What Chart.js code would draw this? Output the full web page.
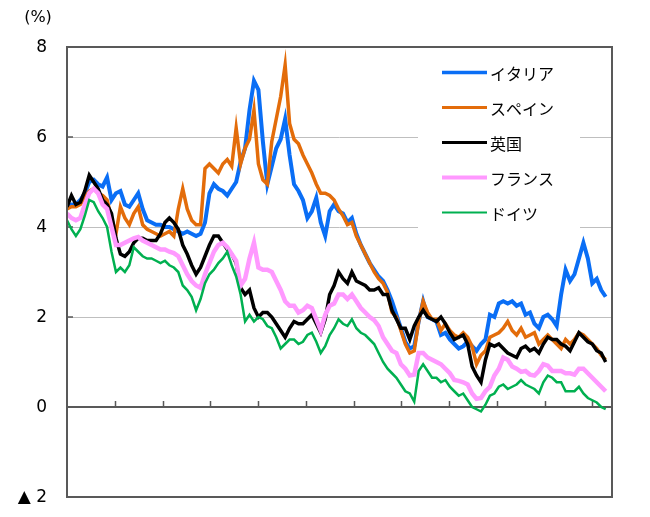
<!DOCTYPE html>
<html lang="ja">
<head>
<meta charset="utf-8">
<script src="https://cdn.jsdelivr.net/npm/chart.js@4.4.1/dist/chart.umd.min.js"></script>
<style>
  html, body { margin: 0; padding: 0; background: #fff; overflow: hidden; }
  #wrap { position: relative; width: 650px; height: 517px; }
  canvas { display: block; }
</style>
</head>
<body>
<div id="wrap"><canvas id="yieldChart" width="650" height="517"></canvas></div>
<script>
// 10-year government bond yields (%), sampled roughly every 34 days from Jan 2008
const YEARS_PER_POINT = 0.0932;
const X_MAX_YEARS = 11.41;
const yTicks = [-2, 0, 2, 4, 6, 8];

const seriesNames = ['イタリア', 'スペイン', '英国', 'フランス', 'ドイツ'];
const seriesColors = ['#0A6EF5', '#E36C0A', '#000000', '#FF99FF', '#00B050'];

const italy = [
  4.45, 4.5, 4.5, 4.6, 4.75, 5.0, 5.05, 4.95, 4.9, 5.1,
  4.6, 4.75, 4.8, 4.5, 4.45, 4.6, 4.75, 4.4, 4.15, 4.1,
  4.05, 4.05, 4.0, 4.0, 3.95, 3.9, 3.85, 3.9, 3.85, 3.8,
  3.85, 4.1, 4.75, 4.95, 4.85, 4.8, 4.7, 4.85, 5.0, 5.45,
  5.75, 6.6, 7.25, 7.05, 5.9, 4.95, 5.35, 5.75, 5.95, 6.4,
  5.6, 4.95, 4.8, 4.6, 4.2, 4.35, 4.65, 4.1, 3.8, 4.35,
  4.5, 4.35, 4.3, 4.1, 4.2, 3.85, 3.6, 3.4, 3.2, 3.05,
  2.9, 2.8, 2.6, 2.35, 2.05, 1.75, 1.45, 1.3, 1.35, 1.9,
  2.35, 2.0, 1.95, 1.9, 1.6, 1.65, 1.5, 1.4, 1.3, 1.35,
  1.45, 1.35, 1.25, 1.4, 1.5, 2.05, 2.0, 2.3, 2.35, 2.3,
  2.35, 2.25, 2.3, 2.05, 2.1, 1.85, 1.75, 2.0, 2.05, 1.95,
  1.8, 2.5, 3.05, 2.8, 2.95, 3.3, 3.65, 3.3, 2.75, 2.85,
  2.6, 2.45
];

const spain = [
  4.4, 4.45, 4.45, 4.5, 4.65, 4.8, 4.85, 4.75, 4.7, 4.6,
  4.2, 3.85, 4.45, 4.2, 4.05, 4.3, 4.45, 4.05, 3.95, 3.9,
  3.85, 3.8, 3.85, 3.9, 3.8, 4.4, 4.85, 4.4, 4.15, 4.05,
  4.05, 5.3, 5.4, 5.3, 5.2, 5.4, 5.5, 5.35, 6.2, 5.4,
  5.75, 5.95, 6.6, 5.4, 5.05, 4.95, 5.9, 6.4, 6.9, 7.6,
  6.3, 5.95, 5.85, 5.6, 5.4, 5.2, 4.95, 4.75, 4.75, 4.7,
  4.6, 4.4, 4.25, 4.05, 4.1, 3.8, 3.6, 3.4, 3.2, 3.0,
  2.85, 2.75, 2.55, 2.1, 2.0, 1.7, 1.4, 1.2, 1.25, 1.9,
  2.35, 2.1, 1.95, 1.95, 1.7, 1.85, 1.7, 1.6, 1.55, 1.65,
  1.55, 1.35, 0.95, 1.15, 1.25, 1.55, 1.6, 1.65, 1.75, 1.9,
  1.7, 1.6, 1.75, 1.55, 1.6, 1.65, 1.4, 1.5, 1.6, 1.5,
  1.4, 1.3, 1.5, 1.4, 1.5, 1.65, 1.6, 1.5, 1.4, 1.3,
  1.15, 1.05
];

const uk = [
  4.45, 4.7, 4.5, 4.55, 4.8, 5.15, 5.0, 4.85, 4.6, 4.5,
  4.3, 3.75, 3.4, 3.35, 3.45, 3.65, 3.75, 3.75, 3.7, 3.7,
  3.7, 3.85, 4.1, 4.2, 4.1, 3.95, 3.6, 3.4, 3.15, 2.95,
  3.1, 3.35, 3.6, 3.8, 3.8, 3.65, 3.5, 3.4, 3.2, 2.65,
  2.5, 2.6, 2.2, 2.0, 2.1, 2.1, 2.0, 1.85, 1.7, 1.55,
  1.75, 1.9, 1.85, 1.85, 1.95, 2.05, 1.85, 1.65, 1.95, 2.5,
  2.7, 3.0, 2.85, 2.75, 3.0, 2.8, 2.75, 2.7, 2.6, 2.6,
  2.65, 2.5, 2.5, 2.15, 1.95, 1.75, 1.75, 1.5, 1.8, 2.0,
  2.15, 2.0, 1.95, 1.9, 2.0, 1.85, 1.65, 1.5, 1.55, 1.6,
  1.4, 0.9, 0.7, 0.55, 1.05, 1.4, 1.35, 1.4, 1.3, 1.2,
  1.15, 1.1, 1.3, 1.35, 1.25, 1.3, 1.2, 1.4, 1.55, 1.5,
  1.5, 1.4, 1.35, 1.25, 1.45, 1.65, 1.55, 1.45, 1.4, 1.25,
  1.2, 1.0
];

const france = [
  4.3, 4.2, 4.15, 4.2, 4.5, 4.75, 4.85, 4.75, 4.5, 4.4,
  4.0, 3.6, 3.6, 3.65, 3.7, 3.75, 3.78, 3.7, 3.65, 3.6,
  3.55, 3.5, 3.5, 3.45, 3.42, 3.35, 3.15, 2.95, 2.8, 2.7,
  2.65, 2.95, 3.2, 3.45, 3.6, 3.65, 3.55, 3.4, 3.25, 2.7,
  2.85, 3.3, 3.65, 3.1, 3.05, 3.05, 3.0, 2.8, 2.6, 2.35,
  2.25, 2.25, 2.1, 2.15, 2.25, 2.2, 1.95, 1.7, 2.05, 2.25,
  2.3, 2.5, 2.5, 2.4, 2.5, 2.35, 2.2, 2.1, 2.0, 1.93,
  1.8, 1.55, 1.4, 1.25, 1.2, 0.95, 0.85, 0.7, 0.72, 1.2,
  1.2, 1.1, 1.05, 1.0, 0.95, 0.85, 0.75, 0.6, 0.58, 0.55,
  0.5, 0.3, 0.18, 0.2, 0.35, 0.45, 0.7, 0.85, 1.1, 1.05,
  0.9, 0.85, 0.78, 0.8, 0.72, 0.7, 0.8, 0.95, 0.92, 0.8,
  0.8, 0.8, 0.75, 0.75, 0.72, 0.85, 0.85, 0.75, 0.65, 0.55,
  0.45, 0.35
];

const germany = [
  4.15, 3.95, 3.8, 3.95, 4.25, 4.6, 4.55, 4.35, 4.2, 4.0,
  3.45, 3.0, 3.1, 3.0, 3.15, 3.55, 3.45, 3.35, 3.3, 3.3,
  3.25, 3.2, 3.25, 3.15, 3.1, 3.0, 2.7, 2.6, 2.45, 2.15,
  2.4, 2.75, 2.95, 3.05, 3.2, 3.3, 3.45, 3.15, 2.9, 2.5,
  1.9, 2.05, 1.9, 2.0, 1.95, 1.8, 1.75, 1.55, 1.3, 1.4,
  1.5, 1.5, 1.4, 1.45, 1.6, 1.65, 1.45, 1.2, 1.35, 1.6,
  1.75, 1.95, 1.85, 1.8, 1.95, 1.75, 1.65, 1.6, 1.5, 1.4,
  1.2, 1.0, 0.85, 0.75, 0.65, 0.5, 0.35, 0.3, 0.12, 0.8,
  0.95, 0.8, 0.65, 0.65, 0.55, 0.6, 0.45, 0.35, 0.25, 0.3,
  0.15, 0.0, -0.05, -0.1, 0.05, 0.25, 0.3, 0.45, 0.5, 0.4,
  0.45, 0.5, 0.6, 0.5, 0.45, 0.4, 0.3, 0.55, 0.7, 0.65,
  0.55, 0.55, 0.35, 0.35, 0.35, 0.45, 0.3, 0.2, 0.15, 0.1,
  0.0, -0.05
];

const seriesValues = [italy, spain, uk, france, germany];
// plotted lines look heavier in the original (daily noise), legend samples are thinner
const lineWidths = [4, 3.5, 3.5, 4.5, 2.5];
const legendLineWidths = [3.5, 3, 3, 4, 2];

// plot frame wanted on the 650x517 page
const FRAME = { left: 67, top: 47, right: 612, bottom: 497 };

function toPoints(values) {
  return values.map((v, i) => ({ x: i * YEARS_PER_POINT, y: v }));
}

function yLabel(v) {
  return v < 0 ? '▲ ' + Math.abs(v) : String(v);
}

const AXIS_COLOR = '#595959';

// frame, zero line, inward ticks and y labels like the original spreadsheet chart
const framePlugin = {
  id: 'frame',
  beforeDatasetsDraw(chart) {
    const { ctx, chartArea, scales } = chart;
    const y0 = scales.y.getPixelForValue(0);
    ctx.save();
    ctx.strokeStyle = AXIS_COLOR;
    ctx.lineWidth = 2;
    ctx.beginPath();
    ctx.moveTo(chartArea.left, y0);
    ctx.lineTo(chartArea.right, y0);
    ctx.stroke();
    ctx.lineWidth = 1.5;
    ctx.beginPath();
    for (let yr = 1; yr <= Math.floor(X_MAX_YEARS); yr++) {
      const x = Math.round(scales.x.getPixelForValue(yr)) + 0.5;
      ctx.moveTo(x, y0);
      ctx.lineTo(x, y0 - 6);
    }
    yTicks.forEach(v => {
      const y = scales.y.getPixelForValue(v);
      ctx.moveTo(chartArea.left, y);
      ctx.lineTo(chartArea.left + 6, y);
    });
    ctx.stroke();
    ctx.restore();
  },
  afterDraw(chart) {
    const { ctx, chartArea, scales } = chart;
    ctx.save();
    ctx.strokeStyle = AXIS_COLOR;
    ctx.lineWidth = 2;
    ctx.strokeRect(chartArea.left, chartArea.top, chartArea.right - chartArea.left, chartArea.bottom - chartArea.top);

    ctx.fillStyle = '#000';
    ctx.font = '17px "DejaVu Sans"';
    ctx.textAlign = 'right';
    ctx.textBaseline = 'middle';
    yTicks.forEach(v => {
      ctx.fillText(yLabel(v), chartArea.left - 20, scales.y.getPixelForValue(v) + 1);
    });

    ctx.font = '16px "DejaVu Sans"';
    ctx.textAlign = 'center';
    ctx.fillText('(%)', 38, 18);

    // legend box sits on top of the gridlines
    ctx.fillStyle = '#fff';
    ctx.fillRect(418, 53, 162, 180);
    ctx.font = '16px "Noto Sans CJK JP"';
    ctx.textAlign = 'left';
    seriesNames.forEach((name, i) => {
      const y = 72.5 + i * 35;
      ctx.strokeStyle = seriesColors[i];
      ctx.lineWidth = legendLineWidths[i];
      ctx.beginPath();
      ctx.moveTo(442, y);
      ctx.lineTo(487, y);
      ctx.stroke();
      ctx.fillStyle = '#000';
      ctx.fillText(name, 490, y + 1);
    });
    ctx.restore();
  }
};

new Chart(document.getElementById('yieldChart').getContext('2d'), {
  type: 'line',
  data: {
    datasets: seriesNames.map((name, i) => ({
      label: name,
      data: toPoints(seriesValues[i]),
      borderColor: seriesColors[i],
      borderWidth: lineWidths[i],
      pointRadius: 0,
      tension: 0,
      fill: false,
      order: seriesNames.length - i
    }))
  },
  options: {
    responsive: false,
    devicePixelRatio: 1,
    animation: false,
    layout: {
      padding: { left: 0, top: FRAME.top, right: 650 - FRAME.right, bottom: 517 - FRAME.bottom }
    },
    plugins: { legend: { display: false }, tooltip: { enabled: false } },
    scales: {
      x: {
        type: 'linear',
        display: false,
        min: 0,
        max: X_MAX_YEARS
      },
      y: {
        min: -2,
        max: 8,
        afterFit(scale) { scale.width = FRAME.left; },
        afterBuildTicks(scale) { scale.ticks = yTicks.map(v => ({ value: v })); },
        ticks: { display: false },
        grid: {
          drawTicks: false,
          lineWidth: 1,
          color: c => ([2, 4, 6].includes(c.tick && c.tick.value) ? '#BFBFBF' : 'rgba(0,0,0,0)')
        },
        border: { display: false }
      }
    }
  },
  plugins: [framePlugin]
});
</script>
</body>
</html>
